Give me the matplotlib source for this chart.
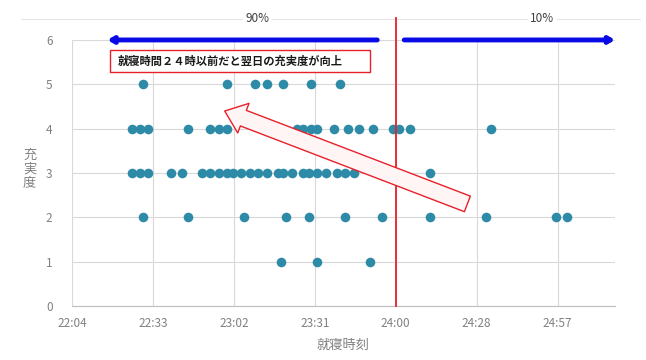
import matplotlib
matplotlib.use("Agg")
import matplotlib.pyplot as plt
from matplotlib.patches import FancyArrowPatch, Rectangle

plt.rcParams['font.family'] = ['Noto Sans CJK JP', 'DejaVu Sans']

# bedtime (hh:mm, past midnight written as 24:xx) and next-day fulfilment score
bedtimes = [
    # score 5
    "22:30", "23:00", "23:10", "23:14", "23:20", "23:30", "23:40",
    # score 4
    "22:26", "22:29", "22:32", "22:46", "22:54", "22:57", "23:00", "23:17", "23:19",
    "23:25", "23:27", "23:30", "23:32", "23:38", "23:43", "23:47", "23:52",
    "23:59", "24:01", "24:05", "24:34",
    # score 3
    "22:26", "22:29", "22:32", "22:40", "22:44", "22:51", "22:54", "22:57", "23:00",
    "23:02", "23:05", "23:08", "23:11", "23:14", "23:18", "23:20", "23:23", "23:27",
    "23:29", "23:32", "23:35", "23:39", "23:42", "23:45", "23:55", "23:59", "24:12",
    # score 2
    "22:30", "22:46", "23:06", "23:21", "23:29", "23:42", "23:55", "24:12", "24:32",
    "24:57", "25:01",
    # score 1
    "23:19", "23:32", "23:51",
]
scores = [5] * 7 + [4] * 21 + [3] * 27 + [2] * 11 + [1] * 3

tick_labels = ["22:04", "22:33", "23:02", "23:31", "24:00", "24:28", "24:57"]
share_labels = ["90%", "10%"]
note_text = "就寝時間２４時以前だと翌日の充実度が向上"


def to_hours(s):
    h, m = s.split(":")
    return int(h) + int(m) / 60.0


x_vals = [to_hours(t) for t in bedtimes]
x_ticks = [22.08 + 0.48 * i for i in range(len(tick_labels))]
x_min, x_max = 22.08, 25.30
cutoff = 24.0

fig = plt.figure(figsize=(6.46, 3.60), dpi=100)
ax = fig.add_axes([0.1115, 0.15, 0.8405, 0.739])

grid_c = "#d9d9d9"
text_c = "#808080"

ax.set_xlim(x_min, x_max)
ax.set_ylim(0, 6)
ax.set_xticks(x_ticks)
ax.set_xticklabels(tick_labels)
ax.set_yticks(range(7))
ax.tick_params(length=0, colors=text_c, labelsize=8.5)
ax.tick_params(axis="x", pad=8)
ax.tick_params(axis="y", pad=14)
ax.grid(True, color=grid_c, lw=0.8)
ax.set_axisbelow(True)
for side in ("left", "right", "top"):
    ax.spines[side].set_visible(False)
ax.spines["bottom"].set_color("#bfbfbf")

ax.scatter(x_vals, scores, s=48, color="#2E8BA8", zorder=3, linewidths=0)

ax.set_xlabel("就寝時刻", color=text_c, fontsize=9.5, labelpad=6)
fig.text(0.046, 0.53, "充\n実\n度", color=text_c, fontsize=9.5,
         ha="center", va="center", linespacing=1.1)

# cutoff at midnight
ax.plot([cutoff, cutoff], [0, 6.5], color="#e8202a", lw=1.3, zorder=4,
        clip_on=False)

# share bands above the plot
band_y = 6.48
ax.plot([x_min - 0.3, x_max + 0.15], [band_y, band_y], color="#e6e6e6", lw=0.8,
        clip_on=False, zorder=1)
ax.text(23.18, band_y, share_labels[0], ha="center", va="center", fontsize=8.5,
        color="#404040", bbox=dict(fc="white", ec="none", pad=1.5), zorder=2)
ax.text(24.87, band_y, share_labels[1], ha="center", va="center", fontsize=8.5,
        color="#404040", bbox=dict(fc="white", ec="none", pad=1.5), zorder=2)

blue = "#0a0ae6"
ax.annotate("", xy=(22.29, 6), xytext=(23.89, 6),
            arrowprops=dict(arrowstyle="-|>,head_length=0.3,head_width=0.18",
                            color=blue, lw=3.5, shrinkA=0, shrinkB=0),
            annotation_clip=False, zorder=5)
ax.annotate("", xy=(25.30, 6), xytext=(24.05, 6),
            arrowprops=dict(arrowstyle="-|>,head_length=0.3,head_width=0.18",
                            color=blue, lw=3.5, shrinkA=0, shrinkB=0),
            annotation_clip=False, zorder=5)

# note box
ax.add_patch(Rectangle((22.305, 5.28), 1.54, 0.49, fc="white", ec="#e8202a",
                       lw=1.0, zorder=6))
ax.text(22.35, 5.525, note_text, ha="left", va="center", fontsize=8.1,
        fontweight="bold", color="#1a1a1a", zorder=7)

# hollow trend arrow
trend = FancyArrowPatch((24.44, 2.28), (22.97, 4.42),
                        arrowstyle="simple,head_length=1.2,head_width=1.9,tail_width=1.0",
                        mutation_scale=12, fc="#fff5f5", ec="#e8202a", lw=1.0,
                        zorder=5)
ax.add_patch(trend)

fig.savefig("out.png", dpi=100)
